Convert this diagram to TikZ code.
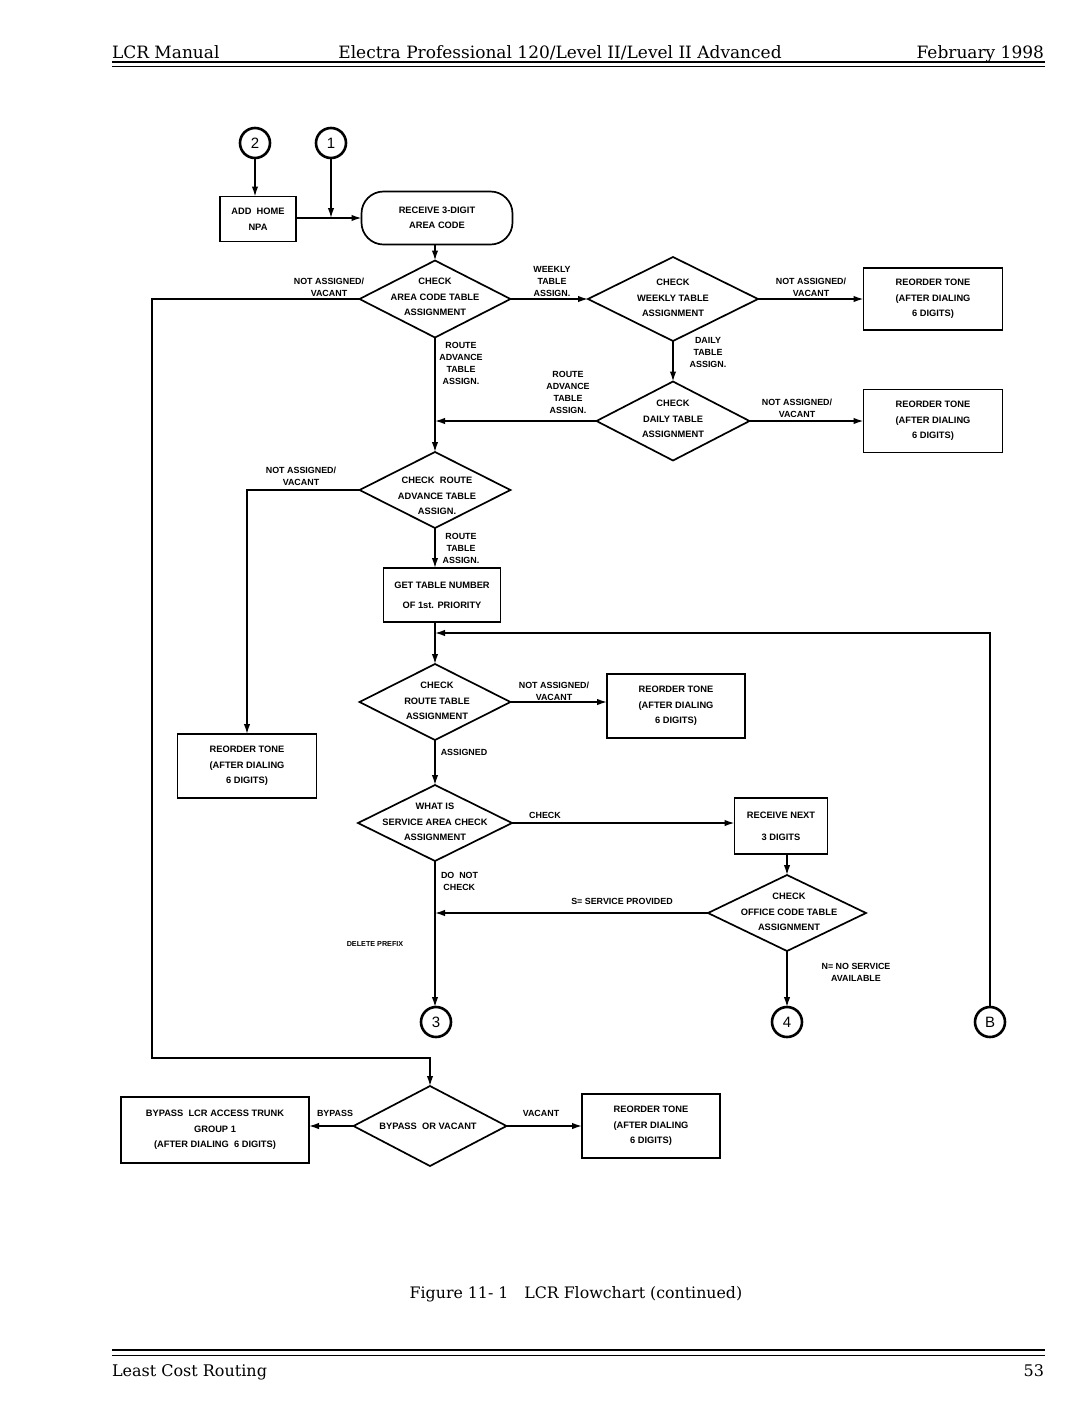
\documentclass[tikz,border=0pt]{standalone}
\usepackage{fontspec}
\setsansfont{Liberation Sans}
\newfontfamily\hdrfont{DejaVu Serif}
\usetikzlibrary{arrows.meta,shapes.geometric}
\begin{document}
\begin{tikzpicture}[x=1pt,y=-1pt,
 every node/.style={inner sep=0pt, outer sep=0pt},
 box/.style={draw, line width=1.7pt, rectangle},
 dia/.style={draw, line width=1.7pt, diamond, inner sep=0pt},
 txt/.style={font=\sffamily\bfseries\fontsize{9.3}{15.5}\selectfont, align=center},
 lbl/.style={font=\sffamily\bfseries\fontsize{8.9}{12}\selectfont, align=center},
 arr/.style={line width=1.5pt, -{Latex[length=10pt,width=6.5pt]}},
 circ/.style={draw, circle, line width=2.6pt, minimum size=30pt, font=\sffamily\fontsize{15}{15}\selectfont},
 hdr/.style={font=\hdrfont\fontsize{17}{17}\selectfont}]
\path[use as bounding box, fill=white] (0,0) rectangle (1080,1409);

% header and footer
\node[hdr, anchor=base west] (h1) at (112,58) {LCR Manual};
\node[hdr, anchor=base] (h2) at (560,58) {Electra Professional 120/Level II/Level II Advanced};
\node[hdr, anchor=base east] (h3) at (1044,58) {February 1998};
\draw[line width=1.8pt] (112,62) -- (1045,62);
\draw[line width=0.9pt] (112,66) -- (1045,66);
\node[hdr, font=\hdrfont\fontsize{15.8}{16}\selectfont, anchor=base] (cap) at (576,1298) {Figure 11- 1\quad LCR Flowchart (continued)};
\draw[line width=2.6pt] (112,1350) -- (1045,1350);
\draw[line width=0.9pt] (112,1355) -- (1045,1355);
\node[hdr, font=\hdrfont\fontsize{16}{16}\selectfont, anchor=base west] (f1) at (112,1376) {Least Cost Routing};
\node[hdr, font=\hdrfont\fontsize{16}{16}\selectfont, anchor=base east] (f2) at (1044,1376) {53};

% connector circles
\node[circ] (c2) at (255,143) {2};
\node[circ] (c1) at (331,143) {1};
\node[circ] (c3) at (436,1022) {3};
\node[circ] (c4) at (787,1022) {4};
\node[circ] (cB) at (990,1022) {B};

% boxes
\node[box, minimum width=76pt, minimum height=45pt, txt] (add) at (258,219) {ADD\ \ HOME\\NPA};
\node[draw, line width=1.7pt, rounded corners=22pt, minimum width=151pt, minimum height=53pt, txt] (term) at (437,218) {RECEIVE 3-DIGIT\\AREA CODE};
\node[box, minimum width=139pt, minimum height=62pt, txt] (r1) at (933,299) {REORDER TONE\\(AFTER DIALING\\6 DIGITS)};
\node[box, minimum width=139pt, minimum height=63pt, txt] (r2) at (933,421) {REORDER TONE\\(AFTER DIALING\\6 DIGITS)};
\node[box, minimum width=117pt, minimum height=54pt, font=\sffamily\bfseries\fontsize{9.3}{20}\selectfont, align=center] (gt) at (442,595) {GET TABLE NUMBER\\OF 1st. PRIORITY};
\node[box, minimum width=138pt, minimum height=64pt, txt] (r3) at (676,706) {REORDER TONE\\(AFTER DIALING\\6 DIGITS)};
\node[box, minimum width=139pt, minimum height=64pt, txt] (r4) at (247,766) {REORDER TONE\\(AFTER DIALING\\6 DIGITS)};
\node[box, minimum width=93pt, minimum height=56pt, font=\sffamily\bfseries\fontsize{9.3}{22}\selectfont, align=center] (rn) at (781,826) {RECEIVE NEXT\\3 DIGITS};
\node[box, minimum width=188pt, minimum height=66pt, txt] (bb) at (215,1130) {BYPASS\ \ LCR ACCESS TRUNK\\GROUP 1\\(AFTER DIALING\ \ 6 DIGITS)};
\node[box, minimum width=138pt, minimum height=64pt, txt] (r5) at (651,1126) {REORDER TONE\\(AFTER DIALING\\6 DIGITS)};

% diamonds
\node[dia, minimum width=151pt, minimum height=77pt] (d1) at (435,299) {};
\node[txt] (d1t) at (435,297) {CHECK\\AREA CODE TABLE\\ASSIGNMENT};
\node[dia, minimum width=170pt, minimum height=84pt] (wk) at (673,299) {};
\node[txt] (wkt) at (673,298) {CHECK\\WEEKLY TABLE\\ASSIGNMENT};
\node[dia, minimum width=153pt, minimum height=79pt] (dl) at (673,421) {};
\node[txt] (dlt) at (673,419) {CHECK\\DAILY TABLE\\ASSIGNMENT};
\node[dia, minimum width=151pt, minimum height=76pt] (ra) at (435,490) {};
\node[txt] (rat) at (437,496) {CHECK\ \ ROUTE\\ADVANCE TABLE\\ASSIGN.};
\node[dia, minimum width=151pt, minimum height=76pt] (rt) at (435,702) {};
\node[txt] (rtt) at (437,701) {CHECK\\ROUTE TABLE\\ASSIGNMENT};
\node[dia, minimum width=154pt, minimum height=76pt] (sv) at (435,823) {};
\node[txt] (svt) at (435,822) {WHAT IS\\SERVICE AREA CHECK\\ASSIGNMENT};
\node[dia, minimum width=158pt, minimum height=76pt] (oc) at (787,913) {};
\node[txt] (oct) at (789,912) {CHECK\\OFFICE CODE TABLE\\ASSIGNMENT};
\node[dia, minimum width=153pt, minimum height=80pt] (byp) at (430,1126) {};
\node[txt] (bypt) at (428,1126) {BYPASS\ \ OR VACANT};

% junctions
\coordinate (j1) at (331,218);
\coordinate (m1) at (435,421);
\coordinate (m2) at (435,633);
\coordinate (m3) at (435,913);
\coordinate (lt) at (152,1058);

% connectors
\draw[arr] (c2) -- (c2.south |- add.north);
\draw[arr] (add.east |- j1) -- (term.west |- j1);
\draw[arr] (c1) -- (j1);
\draw[arr] (term.south -| d1.north) -- (d1.north);
\draw[arr] (d1.west) -| (lt) -| (byp.north);
\draw[arr] (d1.east) -- (wk.west);
\draw[arr] (wk.east) -- (r1.west);
\draw[arr] (wk.south) -- (dl.north);
\draw[arr] (dl.west) -- (m1);
\draw[arr] (dl.east) -- (r2.west);
\draw[arr] (d1.south) -- (ra.north);
\draw[arr] (ra.west) -| (r4.north);
\draw[arr] (ra.south) -- (ra.south |- gt.north);
\draw[arr] (ra.south |- gt.south) -- (rt.north);
\draw[arr] (cB.north) |- (m2);
\draw[arr] (rt.east) -- (rt.east -| r3.west);
\draw[arr] (rt.south) -- (sv.north);
\draw[arr] (sv.east) -- (sv.east -| rn.west);
\draw[arr] (rn.south -| oc.north) -- (oc.north);
\draw[arr] (oc.west) -- (m3);
\draw[arr] (oc.south) -- (c4.north);
\draw[arr] (sv.south) -- (sv.south |- c3.north);
\draw[arr] (byp.west) -- (byp.west -| bb.east);
\draw[arr] (byp.east) -- (r5.west);

% labels
\node[lbl] (l1) at (329,287) {NOT ASSIGNED/\\VACANT};
\node[lbl] (l2) at (552,281) {WEEKLY\\TABLE\\ASSIGN.};
\node[lbl] (l3) at (811,287) {NOT ASSIGNED/\\VACANT};
\node[lbl] (l4) at (708,352) {DAILY\\TABLE\\ASSIGN.};
\node[lbl] (l5) at (568,392) {ROUTE\\ADVANCE\\TABLE\\ASSIGN.};
\node[lbl] (l6) at (797,408) {NOT ASSIGNED/\\VACANT};
\node[lbl] (l7) at (461,363) {ROUTE\\ADVANCE\\TABLE\\ASSIGN.};
\node[lbl] (l8) at (301,476) {NOT ASSIGNED/\\VACANT};
\node[lbl] (l9) at (461,548) {ROUTE\\TABLE\\ASSIGN.};
\node[lbl] (l10) at (554,691) {NOT ASSIGNED/\\VACANT};
\node[lbl] (l11) at (464,752) {ASSIGNED};
\node[lbl] (l12) at (545,815) {CHECK};
\node[lbl, align=left, anchor=west] (l13) at (441,881) {DO\ \ NOT\\\ CHECK};
\node[lbl] (l14) at (622,901) {S= SERVICE PROVIDED};
\node[lbl, font=\sffamily\bfseries\fontsize{7.2}{9}\selectfont] (l15) at (375,944) {DELETE PREFIX};
\node[lbl] (l16) at (856,972) {N= NO SERVICE\\AVAILABLE};
\node[lbl] (l17) at (335,1113) {BYPASS};
\node[lbl] (l18) at (541,1113) {VACANT};
\end{tikzpicture}
\end{document}
